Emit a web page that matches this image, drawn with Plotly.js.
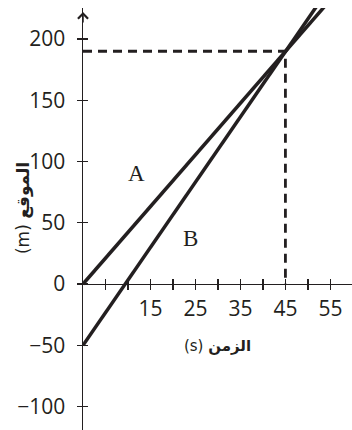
<!DOCTYPE html>
<html>
<head>
<meta charset="utf-8">
<script src="https://cdn.plot.ly/plotly-3.0.1.min.js"></script>
<style>
  html, body { margin: 0; padding: 0; background: #fff; }
  #chart { width: 352px; height: 430px; }
</style>
</head>
<body>
<div id="chart"></div>
<script>
// time (s) and position (m) of the two objects
const timeS = [0, 45, 55];
const posA = [0, 190, 232];
const posB = [-50, 190, 243];

// meeting point guides
const guideX = [0, 45, 45];
const guideY = [190, 190, 0];

const xTickVals = [5, 10, 15, 20, 25, 30, 35, 40, 45, 50, 55];
const xTickText = ["", "", "15", "", "25", "", "35", "", "45", "", "55"];
const yTickVals = [-100, -50, 0, 50, 100, 150, 200];
const yTickText = ["\u2212100", "\u221250", "0", "50", "100", "150", "200"];

const xRange = [0, 59.8];
const yRange = [-119.2, 225.3];
const xAxisPos = (0 - yRange[0]) / (yRange[1] - yRange[0]);

const ink = "#231f20";
const tickFont = { family: "Open Sans, Noto Sans, sans-serif", size: 21, color: ink };
const titleFont = { family: "DejaVu Sans, sans-serif", size: 15, color: ink };

const lineA = {
  x: timeS, y: posA, mode: "lines", type: "scatter",
  line: { color: ink, width: 3.5 }, hoverinfo: "skip"
};
const lineB = {
  x: timeS, y: posB, mode: "lines", type: "scatter",
  line: { color: ink, width: 3.5 }, hoverinfo: "skip"
};
const guide = {
  x: guideX, y: guideY, mode: "lines", type: "scatter",
  line: { color: ink, width: 2.8, dash: "9px,6px" }, hoverinfo: "skip"
};
// empty traces so the overlay axes (the visible tick marks) get drawn
const dummyX = { x: [], y: [], xaxis: "x2", yaxis: "y", type: "scatter", hoverinfo: "skip" };
const dummyY2 = { x: [], y: [], xaxis: "x", yaxis: "y2", type: "scatter", hoverinfo: "skip" };
const dummyY3 = { x: [], y: [], xaxis: "x", yaxis: "y3", type: "scatter", hoverinfo: "skip" };

const data = [guide, lineA, lineB, dummyX, dummyY2, dummyY3];

// y tick marks that cross the axis: one overlay axis per side
function yTickAxis(dir) {
  return {
    range: yRange,
    overlaying: "y",
    anchor: "x",
    side: "left",
    showgrid: false,
    zeroline: false,
    showline: false,
    ticks: dir,
    ticklen: 5,
    tickwidth: 1.2,
    tickcolor: ink,
    tickmode: "array",
    tickvals: yTickVals,
    showticklabels: false
  };
}

const layout = {
  width: 352,
  height: 430,
  margin: { l: 83, r: 0, t: 8, b: 0 },
  paper_bgcolor: "#fff",
  plot_bgcolor: "#fff",
  showlegend: false,
  xaxis: {
    range: xRange,
    anchor: "free",
    position: xAxisPos,
    showgrid: false,
    zeroline: false,
    showline: true,
    linecolor: ink,
    linewidth: 1.5,
    ticks: "outside",
    ticklen: 5,
    tickwidth: 1.2,
    tickcolor: ink,
    tickmode: "array",
    tickvals: xTickVals,
    ticktext: xTickText,
    tickfont: tickFont,
    title: {
      text: "(s) <b>الزمن</b>",
      font: titleFont,
      standoff: 20
    }
  },
  xaxis2: {
    range: xRange,
    overlaying: "x",
    anchor: "free",
    position: xAxisPos,
    showgrid: false,
    zeroline: false,
    showline: false,
    ticks: "inside",
    ticklen: 5,
    tickwidth: 1.2,
    tickcolor: ink,
    tickmode: "array",
    tickvals: xTickVals,
    showticklabels: false
  },
  yaxis: {
    range: yRange,
    showgrid: false,
    zeroline: false,
    showline: true,
    linecolor: ink,
    linewidth: 1.5,
    // invisible long ticks push the labels away from the axis
    ticks: "outside",
    ticklen: 12,
    tickcolor: "rgba(0,0,0,0)",
    tickmode: "array",
    tickvals: yTickVals,
    ticktext: yTickText,
    tickfont: tickFont
  },
  yaxis2: yTickAxis("inside"),
  yaxis3: yTickAxis("outside"),
  annotations: [
    {
      x: 0, y: 222, xref: "x", yref: "y",
      text: "", showarrow: true,
      ax: 0, ay: 12, arrowhead: 4, arrowsize: 1.3, arrowwidth: 1.5, arrowcolor: ink
    },
    // y-axis title sits between the tick labels, so it is placed by hand
    {
      x: -0.223, y: 62, xref: "paper", yref: "y",
      xanchor: "center", yanchor: "middle",
      text: "(m) <b>الموقع</b>", textangle: -90, showarrow: false,
      font: { family: "DejaVu Sans, sans-serif", size: 17, color: ink }
    },
    {
      x: 12, y: 90, xref: "x", yref: "y", text: "A", showarrow: false,
      font: { family: "Liberation Serif, serif", size: 23, color: ink }
    },
    {
      x: 24, y: 37, xref: "x", yref: "y", text: "B", showarrow: false,
      font: { family: "Liberation Serif, serif", size: 23, color: ink }
    }
  ]
};

Plotly.newPlot("chart", data, layout, { staticPlot: true, displayModeBar: false });
</script>
</body>
</html>
